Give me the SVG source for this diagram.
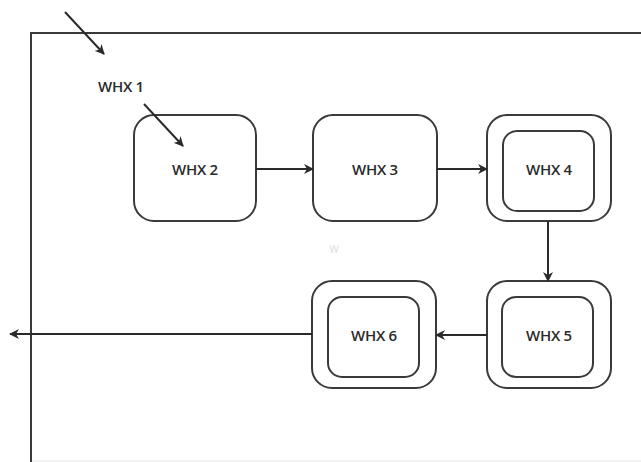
<svg xmlns="http://www.w3.org/2000/svg" width="641" height="462" viewBox="0 0 641 462">
  <style>
    .frame { fill: none; stroke: #3a3a3a; stroke-width: 2; }
    .box { fill: #ffffff; stroke: #3a3a3a; stroke-width: 2; }
    .inner { fill: none; stroke: #3a3a3a; stroke-width: 2; }
    .lbl { font-family: "Open Sans", "Liberation Sans", sans-serif; font-size: 15px; font-weight: 600; fill: #2a2a2a; text-anchor: middle; dominant-baseline: central; letter-spacing: -0.3px; }
    .edge { fill: none; stroke: #2a2a2a; stroke-width: 2; }
  </style>
  <defs>
    <marker id="arrow" viewBox="0 0 10 10" refX="9" refY="5" markerWidth="5" markerHeight="5" orient="auto" markerUnits="strokeWidth">
      <path d="M0,0 L10,5 L0,10 L3,5 Z" fill="#2a2a2a"/>
    </marker>
  </defs>

  <rect width="641" height="462" fill="#ffffff"/>

  <!-- enclosing boundary -->
  <g id="boundary">
    <path class="frame" d="M641,33 H31 V462"/>
    <line x1="32" y1="461" x2="641" y2="461" stroke="#e6e6e6" stroke-width="1"/>
    <text x="334" y="249" font-family="Open Sans, Liberation Sans, sans-serif" font-size="10" fill="#dcdcdc" text-anchor="middle" dominant-baseline="central">W</text>
  </g>

  <g id="whx1">
    <text class="lbl" x="121" y="86">WHX 1</text>
  </g>

  <g id="whx2">
    <rect class="box" x="134" y="115" width="122" height="106" rx="20"/>
    <text class="lbl" x="195" y="169">WHX 2</text>
  </g>

  <g id="whx3">
    <rect class="box" x="313" y="115" width="124" height="106" rx="20"/>
    <text class="lbl" x="375" y="169">WHX 3</text>
  </g>

  <g id="whx4">
    <rect class="box" x="487" y="115" width="124" height="106" rx="20"/>
    <rect class="inner" x="503" y="131" width="91" height="80" rx="14"/>
    <text class="lbl" x="549" y="169">WHX 4</text>
  </g>

  <g id="whx5">
    <rect class="box" x="487" y="281" width="124" height="107" rx="20"/>
    <rect class="inner" x="502" y="297" width="91" height="80" rx="14"/>
    <text class="lbl" x="549" y="335">WHX 5</text>
  </g>

  <g id="whx6">
    <rect class="box" x="312" y="281" width="124" height="107" rx="20"/>
    <rect class="inner" x="328" y="297" width="91" height="80" rx="14"/>
    <text class="lbl" x="374" y="335">WHX 6</text>
  </g>

  <g id="connectors">
    <line class="edge" x1="65" y1="12" x2="104" y2="54" marker-end="url(#arrow)"/>
    <line class="edge" x1="144" y1="104" x2="183" y2="146" marker-end="url(#arrow)"/>
    <line class="edge" x1="256" y1="169" x2="313" y2="169" marker-end="url(#arrow)"/>
    <line class="edge" x1="437" y1="169" x2="487" y2="169" marker-end="url(#arrow)"/>
    <line class="edge" x1="548" y1="221" x2="548" y2="281" marker-end="url(#arrow)"/>
    <line class="edge" x1="487" y1="335" x2="436" y2="335" marker-end="url(#arrow)"/>
    <line class="edge" x1="312" y1="334" x2="10" y2="334" marker-end="url(#arrow)"/>
  </g>
</svg>
